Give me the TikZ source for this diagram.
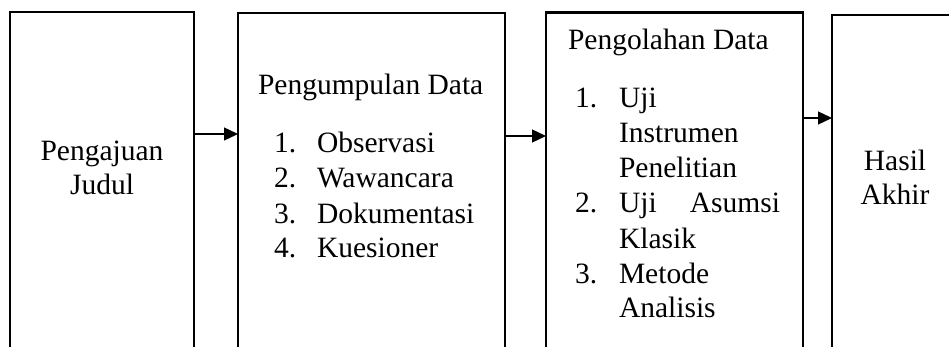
\documentclass[tikz,border=0pt]{standalone}
\usepackage{fontspec}
\setmainfont{Liberation Serif}
\usetikzlibrary{arrows.meta}
\begin{document}
\begin{tikzpicture}[x=1pt,y=-1pt,
  box/.style={draw=black, line width=2.2pt, inner sep=0pt, outer sep=0pt, anchor=north west},
  txt/.style={inner sep=0pt, outer sep=0pt, font=\fontsize{29.5}{34.5}\selectfont},
  arr/.style={line width=1.3pt, -{Triangle[length=14pt,width=13pt]}}]
\useasboundingbox (0,0) rectangle (949,347);
\clip (0,0) rectangle (949,347);
\fill[white] (0,0) rectangle (949,347);
% boxes
\node[box, minimum width=184pt, minimum height=380pt] (b1) at (10,12) {};
\node[box, minimum width=267pt, minimum height=380pt] (b2) at (238,13) {};
\node[box, minimum width=257pt, minimum height=380pt] (b3) at (546,12.5) {};
\node[box, minimum width=126pt, minimum height=380pt] (b4) at (832,15) {};
% box 1 text
\node[txt, anchor=base] (t1a) at (102,161) {Pengajuan};
\node[txt, anchor=base] (t1b) at (102,195) {Judul};
% box 2 text
\node[txt, anchor=base west] (t2) at (258,95) {Pengumpulan Data};
\node[txt, anchor=base west] (n21) at (274,153) {1.};
\node[txt, anchor=base west] (i21) at (317,153) {Observasi};
\node[txt, anchor=base west] (n22) at (274,188) {2.};
\node[txt, anchor=base west] (i22) at (317,188) {Wawancara};
\node[txt, anchor=base west] (n23) at (274,223) {3.};
\node[txt, anchor=base west] (i23) at (317,223) {Dokumentasi};
\node[txt, anchor=base west] (n24) at (274,257) {4.};
\node[txt, anchor=base west] (i24) at (317,257) {Kuesioner};
% box 3 text
\node[txt, anchor=base west] (t3) at (568,50) {Pengolahan Data};
\node[txt, anchor=base west] (n31) at (575,108) {1.};
\node[txt, anchor=base west] (i31a) at (619,108) {Uji};
\node[txt, anchor=base west] (i31b) at (619,143) {Instrumen};
\node[txt, anchor=base west] (i31c) at (619,178) {Penelitian};
\node[txt, anchor=base west] (n32) at (575,213) {2.};
\node[txt, anchor=base west] (i32a) at (619,213) {Uji};
\node[txt, anchor=base east] (i32b) at (780,213) {Asumsi};
\node[txt, anchor=base west] (i32c) at (619,248) {Klasik};
\node[txt, anchor=base west] (n33) at (575,283) {3.};
\node[txt, anchor=base west] (i33a) at (619,283) {Metode};
\node[txt, anchor=base west] (i33b) at (619,317) {Analisis};
% box 4 text
\node[txt, anchor=base] (t4a) at (895,171) {Hasil};
\node[txt, anchor=base] (t4b) at (895,205) {Akhir};
% arrows
\draw[arr] (b1.east |- 0,134) -- (b2.west |- 0,134);
\draw[arr] (b2.east |- 0,136) -- (b3.west |- 0,136);
\draw[arr] (b3.east |- 0,118) -- (b4.west |- 0,118);
\end{tikzpicture}
\end{document}
